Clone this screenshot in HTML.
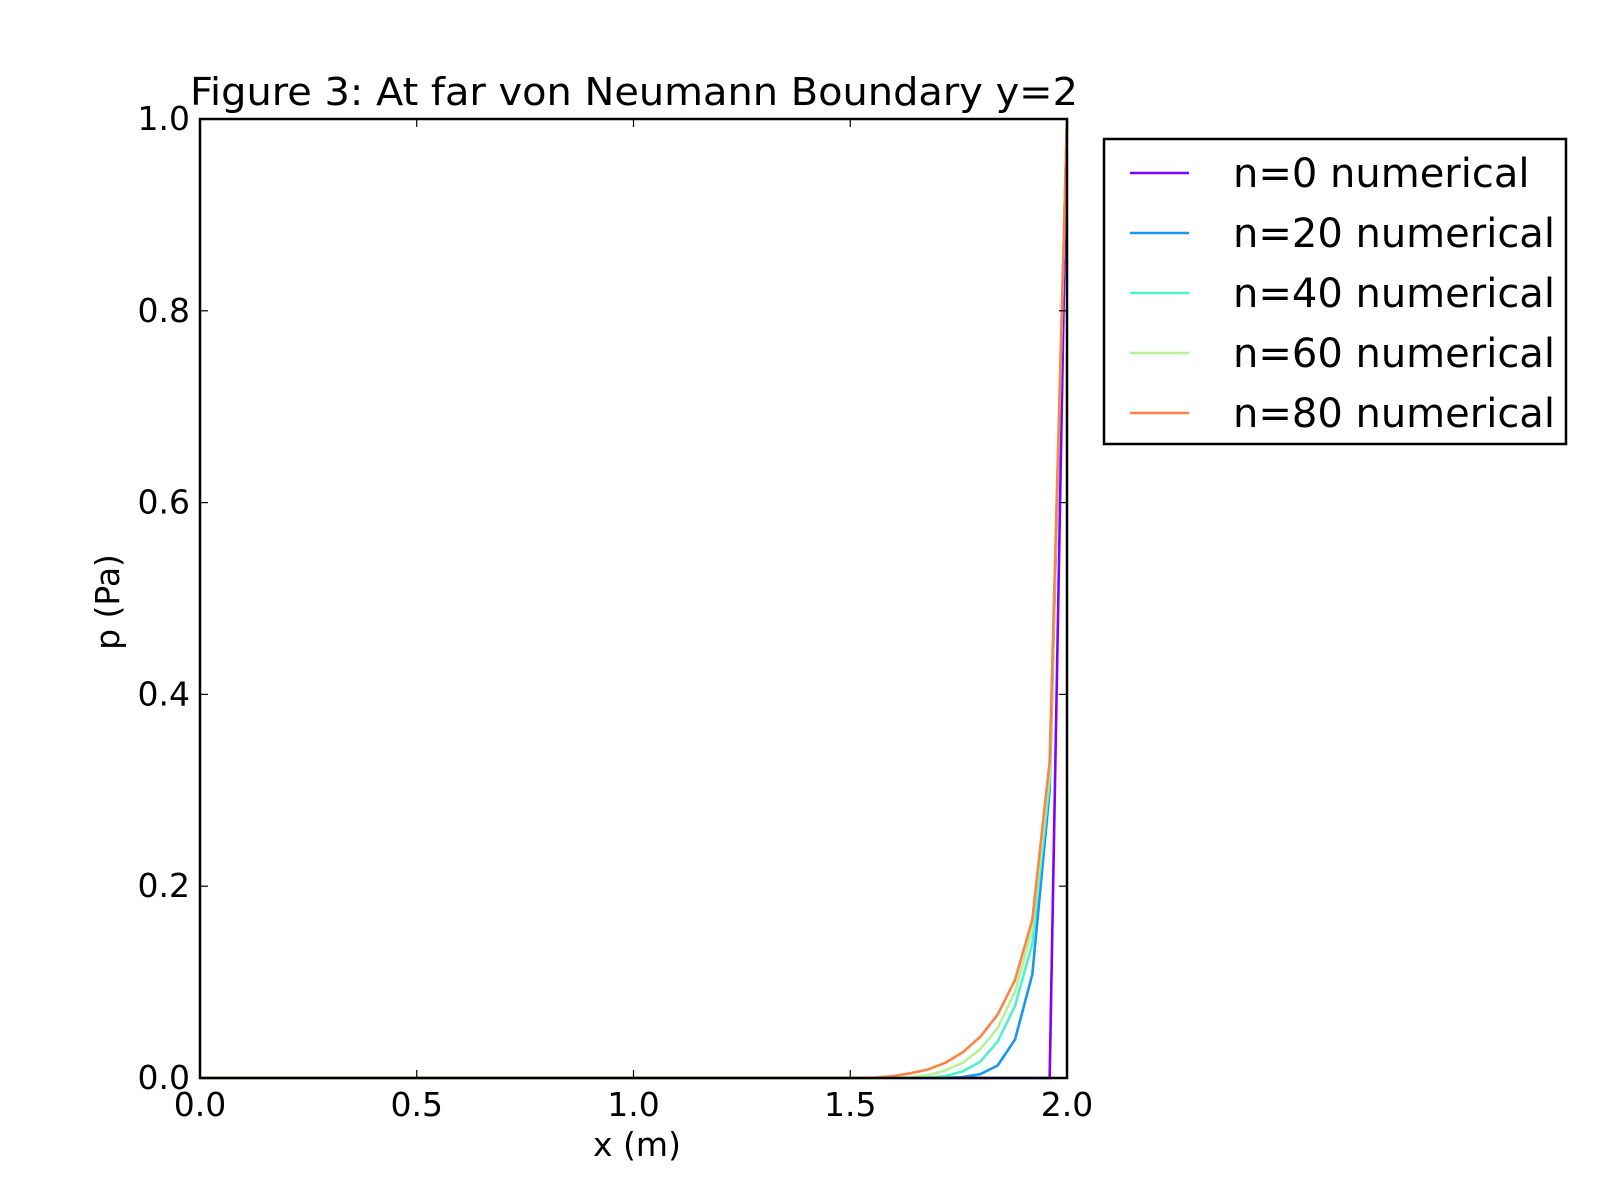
<!DOCTYPE html>
<html><head><meta charset="utf-8"><style>
html,body{margin:0;padding:0;background:#fff}
svg{display:block;font-family:"DejaVu Sans","Liberation Sans",sans-serif}
</style></head><body>
<svg id="chart" width="1600" height="1200" viewBox="0 0 1600 1200" xmlns="http://www.w3.org/2000/svg">
<rect width="1600" height="1200" fill="#fff"/>
<text x="634" y="105" font-size="38" text-anchor="middle" textLength="888" lengthAdjust="spacingAndGlyphs">Figure 3: At far von Neumann Boundary y=2</text>
<g id="marks"></g>
<g id="axes"></g>
<text x="637" y="1156" font-size="33" text-anchor="middle">x (m)</text>
<text x="0" y="0" font-size="33" text-anchor="middle" transform="translate(119,602) rotate(-90)">p (Pa)</text>
<g>
<rect x="1104" y="139" width="462" height="305" fill="#fff" stroke="#000" stroke-width="2.5"/>
<g id="legend-items"></g>
</g>
</svg>
<script>
const xs = [0, 1.52, 1.56, 1.60, 1.64, 1.68, 1.72, 1.76, 1.80, 1.84, 1.88, 1.92, 1.96, 2.0];
const seriesNames = ["n=0 numerical","n=20 numerical","n=40 numerical","n=60 numerical","n=80 numerical"];
const seriesColors = ["#8000ff","#1996f3","#4cf2ce","#b2f396","#ff8247"];
const n0 = [0,0,0,0,0,0,0,0,0,0,0,0,0,1.0];
const n20 = [0,0,0,0,0,0,0,0.001,0.004,0.013,0.040,0.108,0.30,1.0];
const n40 = [0,0,0,0,0,0.0005,0.002,0.007,0.017,0.038,0.075,0.14,0.31,1.0];
const n60 = [0,0,0,0,0.001,0.003,0.008,0.016,0.030,0.052,0.090,0.155,0.32,1.0];
const n80 = [0,0,0.0005,0.002,0.005,0.009,0.016,0.027,0.043,0.066,0.102,0.165,0.33,1.0];
const xTicks = [0,0.5,1.0,1.5,2.0];
const xTickLabels = ["0.0","0.5","1.0","1.5","2.0"];
const yTicks = [0,0.2,0.4,0.6,0.8,1.0];
const yTickLabels = ["0.0","0.2","0.4","0.6","0.8","1.0"];
const series = [n0,n20,n40,n60,n80];

const L=200,R=1067,T=119,B=1078;
const sx=v=>L+(v-0)/(2-0)*(R-L);
const sy=v=>B-(v-0)/(1-0)*(B-T);
const NS="http://www.w3.org/2000/svg";
function mk(tag,attrs,parent){const e=document.createElementNS(NS,tag);for(const k in attrs)e.setAttribute(k,attrs[k]);parent.appendChild(e);return e;}
const marks=document.getElementById('marks');
series.forEach((s,i)=>{
  const p=mk('polyline',{points:s.map((v,j)=>sx(xs[j])+','+sy(v)).join(' '),fill:'none',stroke:seriesColors[i],'stroke-width':2.6,'stroke-linejoin':'miter'},marks);
  
  
});
const axes=document.getElementById('axes');
const frame=mk('rect',{x:L,y:T,width:R-L,height:B-T,fill:'none',stroke:'#000','stroke-width':2.5},axes);


xTicks.forEach((t,i)=>{
  const x=sx(t);
  mk('line',{x1:x,x2:x,y1:B,y2:B-8,stroke:'#000','stroke-width':1.2},axes);
  mk('line',{x1:x,x2:x,y1:T,y2:T+8,stroke:'#000','stroke-width':1.2},axes);
  const tx=mk('text',{x:x,y:1116,'font-size':33,'text-anchor':'middle'},axes);
  tx.textContent=xTickLabels[i];
  
  
});
yTicks.forEach((t,i)=>{
  const y=sy(t);
  mk('line',{x1:L,x2:L+8,y1:y,y2:y,stroke:'#000','stroke-width':1.2},axes);
  mk('line',{x1:R,x2:R-8,y1:y,y2:y,stroke:'#000','stroke-width':1.2},axes);
  const tx=mk('text',{x:190,y:y+11,'font-size':33,'text-anchor':'end'},axes);
  tx.textContent=yTickLabels[i];
  
  
});
const leg=document.getElementById('legend-items');
seriesNames.forEach((n,i)=>{
  const y=173+i*60;
  const g=mk('g',{},leg);
  
  
  mk('line',{x1:1130,x2:1189,y1:y,y2:y,stroke:seriesColors[i],'stroke-width':2.6},g);
  const tx=mk('text',{x:1233,y:y+14,'font-size':40},g);
  tx.textContent=n;
});
</script>
</body></html>
